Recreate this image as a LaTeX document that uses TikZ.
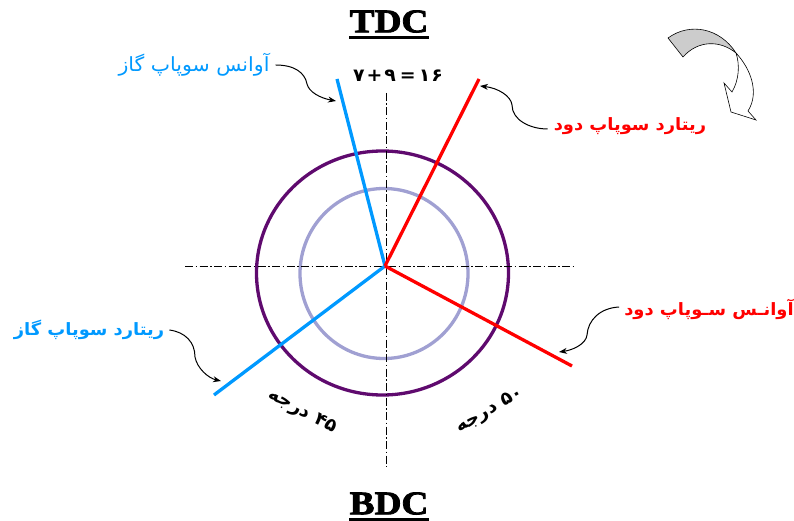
\documentclass[tikz,border=0pt]{standalone}
\usepackage{fontspec}
\usetikzlibrary{arrows.meta}
\TeXXeTstate=1
\setmainfont{Liberation Serif}
\newfontfamily\arabicfont[Script=Arabic,FakeStretch=1.05]{DejaVu Sans}
\newfontfamily\titlefont[FakeStretch=1.13,FakeBold=2.5]{Liberation Serif}
\definecolor{ringdark}{RGB}{95, 10, 110}
\definecolor{ringlight}{RGB}{160, 160, 210}
\definecolor{gasblue}{RGB}{0, 153, 255}
\definecolor{exhred}{RGB}{255, 0, 0}
\definecolor{swirlgray}{RGB}{204, 204, 204}
\tikzset{
  deadpoint/.style={font=\titlefont\bfseries\fontsize{33}{33}\selectfont, inner sep=0pt},
  deadline/.style={line width=3pt},
  spoke/.style={line width=3.3pt},
  axisline/.style={black, line width=0.6pt, dash pattern=on 8pt off 2.5pt on 1.5pt off 2.5pt},
  ring/.style={line width=3.3pt},
  callout/.style={black, line width=1pt, -{Stealth[length=8pt,width=6pt]}},
  faname/.style={inner sep=0pt, font=\arabicfont\fontsize{19.5}{22}\selectfont},
  fabold/.style={inner sep=0pt, font=\arabicfont\bfseries\fontsize{17}{22}\selectfont},
  degree/.style={inner sep=0pt, font=\arabicfont\bfseries\fontsize{18}{22}\selectfont},
}
\begin{document}
\begin{tikzpicture}[x=1pt, y=-1pt]
      \useasboundingbox (0,0) rectangle (794,521);
      % rings and axes
      \draw[ring, ringdark] (382.5,273) ellipse [x radius=126, y radius=122];
      \draw[ring, ringlight] (384,273.5) ellipse [x radius=84, y radius=85];
      \coordinate (centre) at (385,266);
      \coordinate (axisW) at (185,266);
      \coordinate (axisE) at (574,266);
      \coordinate (axisN) at (386,93);
      \coordinate (axisS) at (386,467);
      \draw[axisline] (axisW) -- (axisE);
      \draw[axisline] (axisN) -- (axisS);
      % valve timing lines
      \coordinate (gasopen) at (337,79);
      \coordinate (gasclose) at (214,395);
      \coordinate (exhclose) at (479,79);
      \coordinate (exhopen) at (572,366);
      \draw[spoke, gasblue] (centre) -- (gasopen);
      \draw[spoke, gasblue] (centre) -- (gasclose);
      \draw[spoke, exhred] (centre) -- (exhclose);
      \draw[spoke, exhred] (centre) -- (exhopen);
      % titles
      \node[deadpoint] (tdc) at (389,21.5) {TDC};
      \node[deadpoint] (bdc) at (389,503.5) {BDC};
      \draw[deadline] ([yshift=-4.5pt]tdc.south west) -- ([yshift=-4.5pt]tdc.south east);
      \draw[deadline] ([yshift=-4.5pt]bdc.south west) -- ([yshift=-4.5pt]bdc.south east);
      % labels
      \node[faname, text=gasblue] (lgasopen) at (194,65) {\beginR آوانس سوپاپ گاز\endR};
      \node[fabold, text=gasblue] (lgasclose) at (89,330) {\beginR ریتارد سوپاپ گاز\endR};
      \node[fabold, text=exhred] (lexhclose) at (630,126) {\beginR ریتارد سوپاپ دود\endR};
      \node[fabold, text=exhred] (lexhopen) at (709,309) {\beginR آوانـس سـوپاپ دود\endR};
      \node[degree] (overlap) at (398,76) {۷\kern2pt+\kern2pt۹\kern4pt=\kern3pt۱\kern1pt۶};
      \node[degree, rotate=-28] (deg45) at (302,412) {\beginR ۴۵ درجه\endR};
      \node[degree, rotate=30] (deg50) at (490,411) {\beginR ۵۰ درجه\endR};
      % callouts
      \coordinate (tipgasopen) at (336,101);
      \coordinate (tipexhclose) at (480,86);
      \coordinate (tipexhopen) at (559,352);
      \coordinate (tipgasclose) at (221,381);
      \draw[callout] (lgasopen.east)+(6,0) .. controls (295,65) and (305,73) .. (307,84) .. controls (309,92) and (320,98) .. (tipgasopen);
      \draw[callout] (lexhclose.west)+(-6,3) .. controls (530,129) and (512,120) .. (512,105) .. controls (511,96) and (498,88) .. (tipexhclose);
      \draw[callout] (lexhopen.west)+(-5,-2) .. controls (600,308) and (588,320) .. (587,335) .. controls (586,344) and (573,350) .. (tipexhopen);
      \draw[callout] (lgasclose.east)+(5,0) .. controls (185,332) and (195,342) .. (195,357) .. controls (197,368) and (208,378) .. (tipgasclose);
      % rotation arrow
      \filldraw[draw=black, fill=white, line width=0.6pt] (736,53) .. controls (750,68) and (760,92) .. (748,111) -- (756,120) -- (731,112) -- (724,83) -- (732,92) .. controls (739,80) and (740,65) .. (736,53);
      \filldraw[draw=black, fill=swirlgray, line width=0.6pt] (668,38) .. controls (690,22) and (720,28) .. (736,53) .. controls (720,40) and (698,40) .. (683,57) -- cycle;
    \end{tikzpicture}
\end{document}
